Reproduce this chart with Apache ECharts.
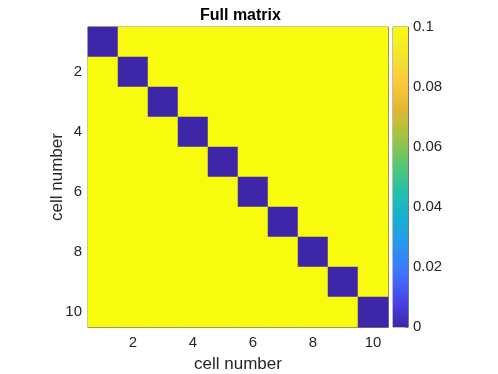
<!DOCTYPE html>
<html>
<head>
<meta charset="utf-8">
<script src="https://cdn.jsdelivr.net/npm/echarts@6/dist/echarts.min.js"></script>
<style>
    html, body {margin: 0; padding: 0; background: #fff;}
    #chart {width: 498px; height: 374px;}
</style>
</head>
<body>
<div id="chart"></div>
<script>
    // cell indices along both axes
    var cells = ['1', '2', '3', '4', '5', '6', '7', '8', '9', '10'];
    // full matrix values, row by row (0 on diagonal, 0.1 elsewhere)
    var matrixRows = [
        [0, 0.1, 0.1, 0.1, 0.1, 0.1, 0.1, 0.1, 0.1, 0.1],
        [0.1, 0, 0.1, 0.1, 0.1, 0.1, 0.1, 0.1, 0.1, 0.1],
        [0.1, 0.1, 0, 0.1, 0.1, 0.1, 0.1, 0.1, 0.1, 0.1],
        [0.1, 0.1, 0.1, 0, 0.1, 0.1, 0.1, 0.1, 0.1, 0.1],
        [0.1, 0.1, 0.1, 0.1, 0, 0.1, 0.1, 0.1, 0.1, 0.1],
        [0.1, 0.1, 0.1, 0.1, 0.1, 0, 0.1, 0.1, 0.1, 0.1],
        [0.1, 0.1, 0.1, 0.1, 0.1, 0.1, 0, 0.1, 0.1, 0.1],
        [0.1, 0.1, 0.1, 0.1, 0.1, 0.1, 0.1, 0, 0.1, 0.1],
        [0.1, 0.1, 0.1, 0.1, 0.1, 0.1, 0.1, 0.1, 0, 0.1],
        [0.1, 0.1, 0.1, 0.1, 0.1, 0.1, 0.1, 0.1, 0.1, 0]
    ];
    // colorbar range
    var colorMin = 0;
    var colorMax = 0.1;
    var colorStep = 0.02;

    var parula = ['#3e26a8', '#4746eb', '#3e76fe', '#2797eb', '#18b0d3', '#25c0a8',
                  '#5ac86f', '#a5c33e', '#e2b733', '#fdc93a', '#f2e72a', '#f9fb0e'];

    var data = [];
    for (var r = 0; r < matrixRows.length; r++) {
        for (var c = 0; c < matrixRows[r].length; c++) {
            data.push([c, r, matrixRows[r][c]]);
        }
    }

    var evenOnly = function (i) { return i % 2 === 1; };
    var font = 'Liberation Sans';
    var lineCol = '#7a7a7a';
    var txtCol = '#262626';

    var stops = parula.map(function (col, i) {
        return {offset: 1 - i / (parula.length - 1), color: col};
    });

    var chart = echarts.init(document.getElementById('chart'));
    chart.setOption({
        animation: false,
        title: {
            text: 'Full matrix',
            left: 195, top: 3,
            textStyle: {fontFamily: font, fontWeight: 'bold', fontSize: 16, color: '#000'}
        },
        grid: [
            {left: 88, top: 27, width: 300, height: 300, show: true, borderColor: lineCol, borderWidth: 1,
             outerBoundsMode: 'none'},
            {left: 393, top: 27, width: 15, height: 300, show: true, borderColor: lineCol, borderWidth: 1,
             outerBoundsMode: 'none'}
        ],
        visualMap: {
            show: false, min: colorMin, max: colorMax, seriesIndex: 0,
            inRange: {color: parula}
        },
        xAxis: [
            {
                type: 'category', data: cells, gridIndex: 0, position: 'bottom',
                name: 'cell number', nameLocation: 'middle', nameGap: 29, nameMoveOverlap: false,
                nameTextStyle: {fontFamily: font, fontSize: 17, color: txtCol},
                axisLine: {lineStyle: {color: lineCol}},
                axisTick: {inside: true, alignWithLabel: true, interval: evenOnly, length: 3, lineStyle: {color: lineCol}},
                axisLabel: {interval: evenOnly, fontFamily: font, fontSize: 15, color: txtCol, margin: 8},
                splitLine: {show: false}
            },
            {
                type: 'category', data: cells, gridIndex: 0, position: 'top',
                axisLine: {lineStyle: {color: lineCol}},
                axisTick: {inside: true, alignWithLabel: true, interval: evenOnly, length: 3, lineStyle: {color: lineCol}},
                axisLabel: {show: false}
            },
            {
                type: 'category', data: [''], gridIndex: 1, show: false
            }
        ],
        yAxis: [
            {
                type: 'category', data: cells, gridIndex: 0, inverse: true, position: 'left',
                name: 'cell number', nameLocation: 'middle', nameGap: 22, nameMoveOverlap: false,
                nameTextStyle: {fontFamily: font, fontSize: 17, color: txtCol},
                axisLine: {lineStyle: {color: lineCol}},
                axisTick: {inside: true, alignWithLabel: true, interval: evenOnly, length: 3, lineStyle: {color: lineCol}},
                axisLabel: {interval: evenOnly, fontFamily: font, fontSize: 15, color: txtCol, margin: 6},
                splitLine: {show: false}
            },
            {
                type: 'category', data: cells, gridIndex: 0, inverse: true, position: 'right',
                axisLine: {lineStyle: {color: lineCol}},
                axisTick: {inside: true, alignWithLabel: true, interval: evenOnly, length: 3, lineStyle: {color: lineCol}},
                axisLabel: {show: false}
            },
            {
                type: 'value', gridIndex: 1, position: 'right',
                min: colorMin, max: colorMax, interval: colorStep,
                axisLine: {show: true, lineStyle: {color: lineCol}},
                axisTick: {show: true, inside: true, length: 3, lineStyle: {color: lineCol}},
                axisLabel: {fontFamily: font, fontSize: 15, color: txtCol, margin: 5},
                splitLine: {show: false}
            }
        ],
        series: [
            {
                type: 'heatmap', xAxisIndex: 0, yAxisIndex: 0,
                data: data, emphasis: {disabled: true}
            },
            {
                type: 'bar', xAxisIndex: 2, yAxisIndex: 2,
                data: [colorMax], barWidth: '100%', silent: true,
                itemStyle: {color: new echarts.graphic.LinearGradient(0, 0, 0, 1, stops)}
            }
        ]
    });
</script>
</body>
</html>
